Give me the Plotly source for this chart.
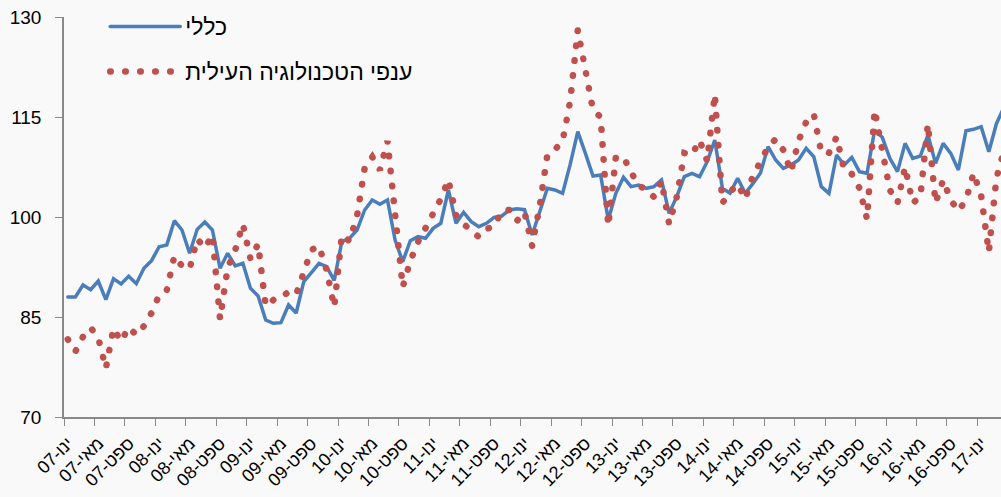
import plotly.graph_objects as go

# months from Jan 2007 (index 0) onward
month_index = list(range(124))

general = [88.0, 88.0, 89.8, 89.1, 90.4, 87.6, 90.75, 89.95, 91.1, 90.0,
           92.3, 93.45, 95.55, 95.8, 99.45, 98.05, 94.55, 98.15, 99.25, 98.05,
           92.3, 94.55, 92.65, 93.05, 89.3, 88.15, 84.55, 84.05, 84.15, 86.8,
           85.6, 90.3, 91.65, 93.05, 92.55, 90.5, 96.3, 96.8, 98.05, 101.05,
           102.55, 101.9, 102.55, 96.55, 93.3, 96.45, 97.05, 96.8, 98.3, 99.05,
           104.05, 99.05, 100.7, 99.3, 98.55, 99.05, 99.95, 100.15, 101.05, 101.25,
           101.1, 97.3, 100.8, 104.3, 104.05, 103.55, 107.9, 112.8, 109.55, 106.15,
           106.3, 99.6, 103.55, 105.95, 104.55, 104.8, 104.3, 104.55, 105.55, 100.55,
           103.05, 106.05, 106.55, 106.05, 108.3, 111.55, 104.3, 103.55, 105.8, 103.55,
           105.0, 106.6, 110.55, 108.55, 107.3, 107.8, 108.55, 110.3, 109.05, 104.55,
           103.55, 109.3, 107.8, 108.95, 106.8, 106.55, 113.05, 111.95, 108.8, 106.8,
           111.05, 108.8, 109.15, 112.3, 108.05, 111.05, 109.55, 107.05, 112.95, 113.15,
           113.55, 109.8, 114.0, 116.5]

hightech = [81.65, 79.85, 82.05, 83.4, 81.9, 77.3, 83.3, 81.35, 83.45, 82.3,
            83.65, 85.6, 88.3, 89.0, 94.15, 92.65, 92.2, 96.7, 95.35, 97.3,
            84.7, 92.35, 95.05, 98.95, 93.7, 95.95, 86.65, 87.55, 87.85, 88.8,
            88.4, 91.75, 95.05, 95.65, 92.05, 86.5, 97.3, 96.4, 100.15, 107.35,
            109.0, 107.05, 111.4, 100.45, 89.5, 93.4, 96.25, 98.35, 100.6, 102.7,
            105.6, 100.3, 98.95, 97.9, 97.0, 98.2, 98.6, 100.9, 101.05, 99.4,
            100.75, 95.65, 101.65, 109.3, 110.1, 111.4, 117.4, 128.05, 122.5, 116.05,
            115.0, 98.65, 109.0, 109.0, 106.75, 104.65, 104.2, 103.0, 105.4, 98.95,
            103.0, 109.6, 109.3, 111.55, 108.4, 118.4, 102.1, 103.75, 104.95, 102.7,
            106.15, 108.4, 110.5, 111.7, 110.05, 106.75, 111.4, 114.25, 115.45, 109.6,
            109.6, 112.0, 107.05, 106.45, 104.35, 99.7, 116.05, 110.05, 104.05, 102.1,
            107.5, 102.1, 103.0, 113.95, 102.1, 105.55, 102.55, 100.9, 102.55, 106.6,
            103.15, 94.75, 105.85, 110.0]

month_names = ["ינו", "מאי", "ספט"]
years = ["07", "08", "09", "10", "11", "12", "13", "14", "15", "16", "17"]
tick_labels = [f"{m}-{y}" for y in years for m in month_names][:31]
tick_positions = [4 * k - 0.5 for k in range(len(tick_labels))]

y_ticks = [70, 85, 100, 115, 130]

name_general = "כללי"
name_hightech = "ענפי הטכנולוגיה העילית"

FONT = "Liberation Sans"
BG = "#f9f9f9"

fig = go.Figure()
fig.add_trace(go.Scatter(
    x=month_index, y=general, mode="lines", name=name_general,
    line=dict(color="#4a7ebb", width=3.5), legend="legend", showlegend=True))
fig.add_trace(go.Scatter(
    x=month_index, y=hightech, mode="lines", name=name_hightech,
    line=dict(color="#c0504d", width=6.5, dash="0.5px,14.5px"), legend="legend2",
    showlegend=True))

fig.update_layout(
    width=1001, height=497,
    margin=dict(l=64, r=0, t=17, b=80),
    paper_bgcolor=BG, plot_bgcolor=BG,
    showlegend=True,
    font=dict(family=FONT, size=19, color="#000000"),
    legend=dict(x=0.044, y=1.03, xanchor="left", yanchor="top",
                bgcolor="rgba(0,0,0,0)", itemwidth=70,
                font=dict(family=FONT, size=23)),
    legend2=dict(x=0.044, y=0.9175, xanchor="left", yanchor="top",
                 bgcolor="rgba(0,0,0,0)", itemwidth=70,
                 font=dict(family=FONT, size=23)),
    xaxis=dict(range=[-0.5, 122.6], tickvals=tick_positions, ticktext=tick_labels,
               tickangle=-45, ticks="outside", ticklen=7, tickcolor="#898989",
               showline=True, linecolor="#898989", linewidth=1.5,
               showgrid=False, zeroline=False, automargin=False,
               ticklabelshift=4, ticklabelstandoff=0,
               tickfont=dict(family=FONT, size=18)),
    yaxis=dict(range=[70, 130], tickvals=y_ticks, ticks="outside", ticklen=7,
               tickcolor="#898989", showline=True, linecolor="#898989", linewidth=1.5,
               showgrid=False, zeroline=False, ticklabelstandoff=10, automargin=False,
               tickfont=dict(family=FONT, size=19)),
)

post = """
var s = document.createElement('style');
s.innerHTML = 'html,body{margin:0;padding:0;overflow:hidden;background:#f9f9f9} .js-line{stroke-linecap:round !important;}';
document.head.appendChild(s);
"""
fig.write_html("out.html", post_script=post, config={"displayModeBar": False})
